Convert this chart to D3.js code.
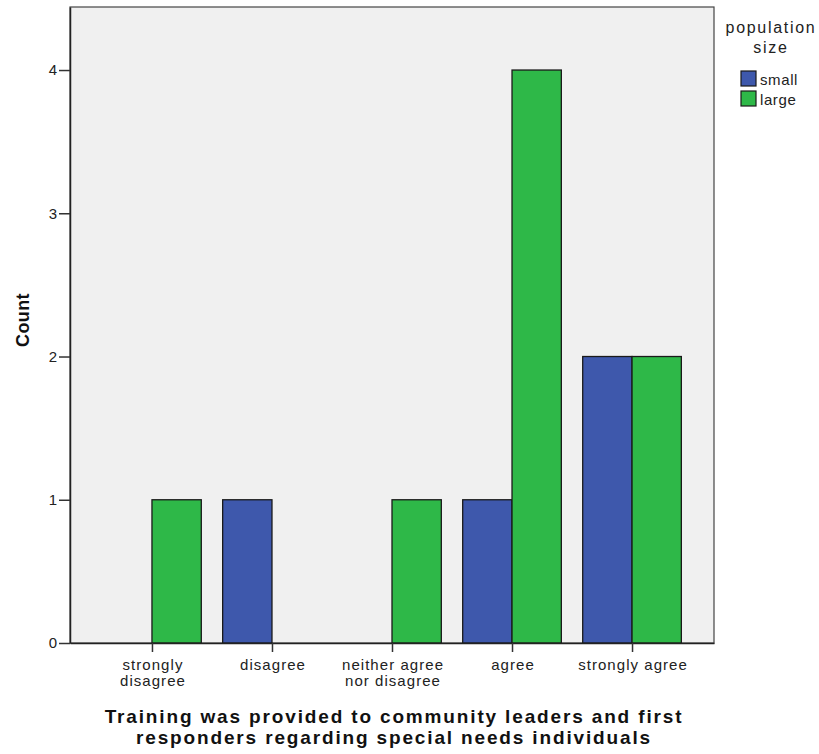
<!DOCTYPE html>
<html>
<head>
<meta charset="utf-8">
<script src="https://cdn.jsdelivr.net/npm/d3@7"></script>
<style>
  html, body { margin: 0; padding: 0; background: #ffffff; }
  svg { display: block; font-family: "Liberation Sans", Arial, sans-serif; }
</style>
</head>
<body>
<svg id="chart" width="819" height="754"></svg>
<script>
const categories = ["strongly disagree", "disagree", "neither agree nor disagree", "agree", "strongly agree"];
const categoryLines = [["strongly", "disagree"], ["disagree"], ["neither agree", "nor disagree"], ["agree"], ["strongly agree"]];
const seriesNames = ["small", "large"];
const smallValues = [0, 1, 0, 1, 2];
const largeValues = [1, 0, 1, 4, 2];
const yTicks = [0, 1, 2, 3, 4];
const seriesColors = ["#3e58ac", "#2eb848"];
const xTitleLines = ["Training was provided to community leaders and first", "responders regarding special needs individuals"];
const yTitle = "Count";
const legendTitleLines = ["population", "size"];

const svg = d3.select("#chart");
const plot = { left: 70, right: 714, top: 7, bottom: 643 };

const x = d3.scalePoint().domain(categories).range([plot.left, plot.right]).padding(0.683);
const step = x.step();
const sub = d3.scaleBand().domain(seriesNames).range([-step * 0.411, step * 0.411]).padding(0);
const y = d3.scaleLinear().domain([0, 4.44]).range([plot.bottom, plot.top]);
const color = d3.scaleOrdinal().domain(seriesNames).range(seriesColors);

// plot background
svg.append("rect")
  .attr("x", plot.left).attr("y", plot.top)
  .attr("width", plot.right - plot.left).attr("height", plot.bottom - plot.top)
  .attr("fill", "#f0f0f0").attr("stroke", "#444").attr("stroke-width", 1.2);

// bars
const rows = [];
categories.forEach((c, i) => {
  rows.push({ cat: c, series: "small", value: smallValues[i] });
  rows.push({ cat: c, series: "large", value: largeValues[i] });
});
svg.append("g").selectAll("rect")
  .data(rows.filter(d => d.value > 0))
  .join("rect")
  .attr("x", d => x(d.cat) + sub(d.series))
  .attr("y", d => y(d.value))
  .attr("width", sub.bandwidth())
  .attr("height", d => y(0) - y(d.value))
  .attr("fill", d => color(d.series))
  .attr("stroke", "#1a1a1a").attr("stroke-width", 1.3);

// y axis
const yAxis = svg.append("g").attr("transform", `translate(${plot.left},0)`)
  .call(d3.axisLeft(y).tickValues(yTicks).tickFormat(d3.format("d")).tickSize(11).tickPadding(2).tickSizeOuter(0));
yAxis.select(".domain").attr("stroke", "#222").attr("stroke-width", 1.5);
yAxis.selectAll(".tick line").attr("stroke", "#333").attr("stroke-width", 1.5);
yAxis.selectAll(".tick text").attr("font-size", 15).attr("fill", "#222").attr("font-family", "Liberation Sans, Arial, sans-serif");

// x axis
const xAxis = svg.append("g").attr("transform", `translate(0,${plot.bottom})`)
  .call(d3.axisBottom(x).tickSize(9).tickSizeOuter(0).tickFormat(""));
xAxis.select(".domain").attr("stroke", "#222").attr("stroke-width", 1.5);
xAxis.selectAll(".tick line").attr("stroke", "#333").attr("stroke-width", 1.5);
xAxis.selectAll(".tick").each(function(d, i) {
  const t = d3.select(this).append("text")
    .attr("text-anchor", "middle").attr("font-size", 15).attr("fill", "#222")
    .attr("letter-spacing", 1.05)
    .attr("font-family", "Liberation Sans, Arial, sans-serif");
  categoryLines[i].forEach((ln, k) => {
    t.append("tspan").attr("x", 0.5).attr("y", 27 + k * 15.5).text(ln);
  });
});

// x title
const xt = svg.append("text").attr("text-anchor", "middle")
  .attr("font-size", 19).attr("font-weight", "bold").attr("fill", "#111")
  .attr("letter-spacing", 1.85);
xTitleLines.forEach((ln, k) => {
  xt.append("tspan").attr("x", 394).attr("y", 723 + k * 20.5).text(ln);
});

// y title
svg.append("text")
  .attr("transform", `translate(29,320) rotate(-90)`)
  .attr("text-anchor", "middle").attr("font-size", 18).attr("font-weight", "bold")
  .attr("letter-spacing", 0.4).attr("fill", "#111").text(yTitle);

// legend
const lg = svg.append("g");
const lt = lg.append("text").attr("text-anchor", "middle").attr("font-size", 16)
  .attr("letter-spacing", 1.7).attr("fill", "#222");
legendTitleLines.forEach((ln, k) => {
  lt.append("tspan").attr("x", 771).attr("y", 33 + k * 19.5).text(ln);
});
seriesNames.forEach((s, i) => {
  lg.append("rect").attr("x", 741).attr("y", 71 + i * 20).attr("width", 15).attr("height", 15)
    .attr("fill", color(s)).attr("stroke", "#1a1a1a").attr("stroke-width", 1.2);
  lg.append("text").attr("x", 760).attr("y", 85 + i * 20).attr("font-size", 15)
    .attr("letter-spacing", 0.6).attr("fill", "#222").text(s);
});
</script>
</body>
</html>
